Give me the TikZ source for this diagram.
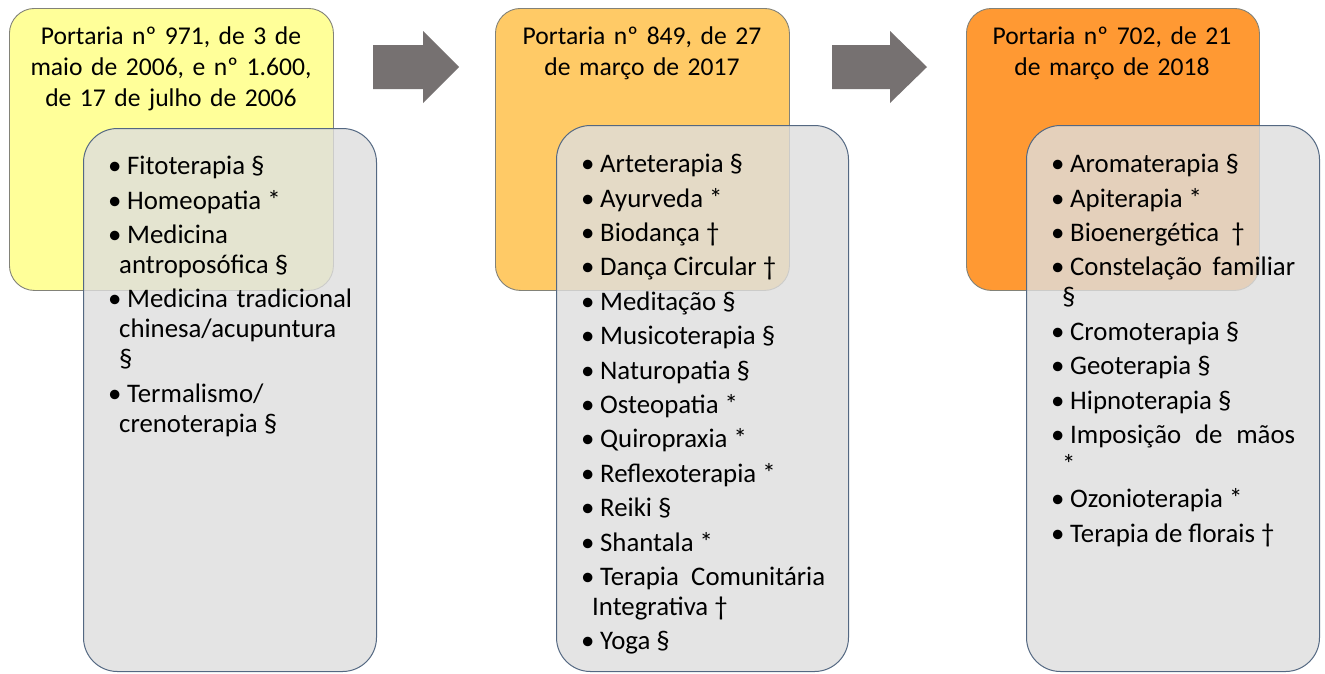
\documentclass[tikz,border=0pt]{standalone}
\usepackage{fontspec}
\setmainfont{Carlito}
\definecolor{boxyellow}{RGB}{255,255,153}
\definecolor{boxlightorange}{RGB}{255,202,102}
\definecolor{boxorange}{RGB}{255,153,51}
\definecolor{listgray}{RGB}{222,222,222}
\definecolor{listborder}{RGB}{84,104,130}
\definecolor{titleborder}{RGB}{130,130,120}
\definecolor{arrowgray}{RGB}{118,113,113}
\newcommand\itm[1]{\par\noindent\hspace*{8pt}\llap{\makebox[19pt][l]{\textbullet}}#1}
\newcommand\listsetup{\hyphenpenalty=10000 \exhyphenpenalty=10000 \tolerance=10000 \hbadness=10000 \parskip=4.4pt}
\begin{document}
\begin{tikzpicture}[x=1pt,y=-1pt,
  titlebox/.style={draw=titleborder, line width=0.9pt, rounded corners=25pt, anchor=north west, inner sep=0pt},
  listbox/.style={draw=listborder, line width=1pt, fill=listgray, fill opacity=0.8, rounded corners=34pt, anchor=north west, inner sep=0pt},
  titletext/.style={anchor=north, align=center, text width=300pt, font=\fontsize{25.6}{31}\selectfont, inner sep=0pt},
  listtext/.style={anchor=north west, text width=233pt, align=justify, font=\fontsize{26.8}{30}\selectfont, inner sep=0pt},
  bigarrow/.style={fill=arrowgray}
]
\useasboundingbox (0,0) rectangle (1325,673);
\fill[white] (0,0) rectangle (1325,673);

% title boxes
\node[titlebox, fill=boxyellow, minimum width=324pt, minimum height=282pt] (t1) at (9,8) {};
\node[titlebox, fill=boxlightorange, minimum width=294pt, minimum height=282pt] (t2) at (495,8) {};
\node[titlebox, fill=boxorange, minimum width=293pt, minimum height=282pt] (t3) at (966,8) {};

\node[titletext] (tt1) at (171,27) {Portaria nº 971, de 3 de\\maio de 2006, e nº 1.600,\\de 17 de julho de 2006};
\node[titletext] (tt2) at (642,27) {Portaria nº 849, de 27\\de março de 2017};
\node[titletext] (tt3) at (1112,27) {Portaria nº 702, de 21\\de março de 2018};

% arrows
\fill[bigarrow] (373,45) -- (423,45) -- (423,31) -- (459,67) -- (423,103) -- (423,89) -- (373,89) -- cycle;
\fill[bigarrow] (832,45) -- (890,45) -- (890,31) -- (927,67) -- (890,103) -- (890,89) -- (832,89) -- cycle;

% list boxes
\node[listbox, minimum width=293pt, minimum height=543pt] (g1) at (83,128) {};
\node[listbox, minimum width=292pt, minimum height=546pt] (g2) at (556,125) {};
\node[listbox, minimum width=293pt, minimum height=546pt] (g3) at (1026,125) {};

\node[listtext] (l1) at (119,140) {\listsetup
\itm{Fitoterapia §}
\itm{Homeopatia *}
\itm{Medicina\newline antroposófica §}
\itm{Medicina tradicional\linebreak chinesa/acupuntura\newline §}
\itm{Termalismo/\newline crenoterapia §}\par};

\node[listtext] (l2) at (592,138) {\listsetup
\itm{Arteterapia §}
\itm{Ayurveda *}
\itm{Biodança †}
\itm{Dança Circular †}
\itm{Meditação §}
\itm{Musicoterapia §}
\itm{Naturopatia §}
\itm{Osteopatia *}
\itm{Quiropraxia *}
\itm{Reflexoterapia *}
\itm{Reiki §}
\itm{Shantala *}
\itm{Terapia Comunitária\linebreak Integrativa †}
\itm{Yoga §}\par};

\node[listtext] (l3) at (1062,138) {\listsetup
\itm{Aromaterapia §}
\itm{Apiterapia *}
\itm{Bioenergética\hspace{12pt}†}
\itm{Constelação familiar\linebreak §}
\itm{Cromoterapia §}
\itm{Geoterapia §}
\itm{Hipnoterapia §}
\itm{Imposição de mãos\linebreak *}
\itm{Ozonioterapia *}
\itm{Terapia de florais †}\par};
\end{tikzpicture}
\end{document}
